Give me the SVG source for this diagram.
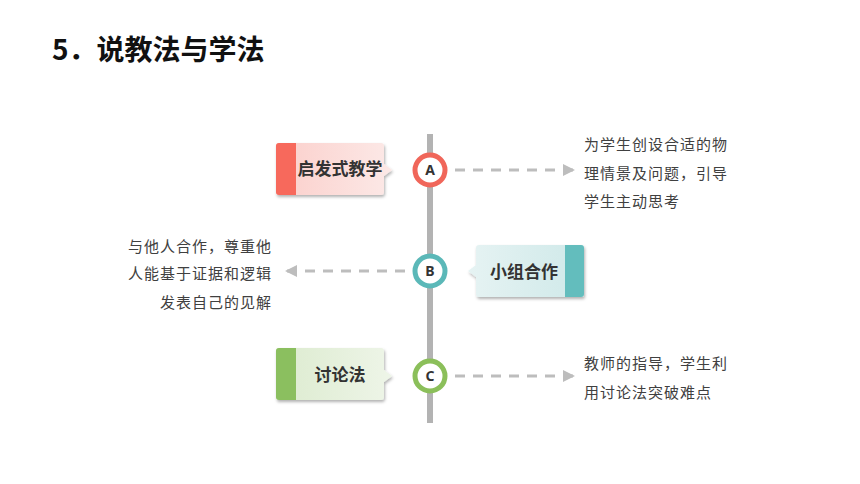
<svg xmlns="http://www.w3.org/2000/svg" width="860" height="484" viewBox="0 0 860 484">
<defs>
<linearGradient id="gA" x1="0" y1="0" x2="1" y2="0"><stop offset="0" stop-color="#fbcfcb"/><stop offset="1" stop-color="#fce9e7"/></linearGradient>
<linearGradient id="gB" x1="0" y1="0" x2="1" y2="0"><stop offset="0" stop-color="#e6f3f3"/><stop offset="1" stop-color="#cfe9e9"/></linearGradient>
<linearGradient id="gC" x1="0" y1="0" x2="1" y2="0"><stop offset="0" stop-color="#dcebcf"/><stop offset="1" stop-color="#eef5e8"/></linearGradient>
<filter id="sh" x="-10%" y="-10%" width="125%" height="130%"><feDropShadow dx="1" dy="2" stdDeviation="1.5" flood-color="#000" flood-opacity="0.3"/></filter>
<marker id="ar" viewBox="0 0 12 12" refX="12" refY="6" markerWidth="12" markerHeight="12" markerUnits="userSpaceOnUse" orient="auto"><path d="M0,0 L12,6 L0,12 z" fill="#bdbdbd"/></marker>
<style>
.t{font-family:"Microsoft YaHei","Noto Sans CJK SC",sans-serif;}
.lab{font-size:17px;font-weight:bold;fill:#333;}
.desc{font-size:15px;fill:#404040;letter-spacing:1px;}
.cl{font-size:14px;font-weight:bold;fill:#333;font-family:"Noto Sans","Liberation Sans",sans-serif;}
.dash{stroke:#bdbdbd;stroke-width:3;stroke-dasharray:10,8;fill:none;}
</style>
</defs>
<rect width="860" height="484" fill="#fff"/>
<text class="t" x="52" y="60" font-size="28" font-weight="bold" fill="#111">5．说教法与学法</text>
<g id="timeline"><line x1="430" y1="134" x2="430" y2="423" stroke="#b3b3b3" stroke-width="6"/></g>
<g id="connectors">
<line class="dash" x1="455" y1="170" x2="575" y2="170" marker-end="url(#ar)"/>
<line class="dash" x1="405" y1="271" x2="285" y2="271" marker-end="url(#ar)"/>
<line class="dash" x1="455" y1="376" x2="575" y2="376" marker-end="url(#ar)"/>
</g>
<g id="nodeA">
<g filter="url(#sh)"><path d="M279,143 H381 a3,3 0 0 1 3,3 V164 L392,170 L384,176 V192 a3,3 0 0 1 -3,3 H279 a3,3 0 0 1 -3,-3 V146 a3,3 0 0 1 3,-3 z" fill="url(#gA)"/>
<path d="M279,143 H296 V195 H279 a3,3 0 0 1 -3,-3 V146 a3,3 0 0 1 3,-3 z" fill="#f7695b"/></g>
<text class="t lab" x="340" y="175" text-anchor="middle">启发式教学</text>
</g>
<g id="circleA"><circle cx="430" cy="170" r="15" fill="#fff" stroke="#f0665a" stroke-width="5"/><text class="cl" x="430" y="175" text-anchor="middle">A</text></g>
<g id="descA">
<text class="t desc" x="584" y="150">为学生创设合适的物</text>
<text class="t desc" x="584" y="179">理情景及问题，引导</text>
<text class="t desc" x="584" y="207">学生主动思考</text>
</g>
<g id="nodeB">
<g filter="url(#sh)"><path d="M479,245 H581 a3,3 0 0 1 3,3 V294 a3,3 0 0 1 -3,3 H479 a3,3 0 0 1 -3,-3 V277 L468,271 L476,265 V248 a3,3 0 0 1 3,-3 z" fill="url(#gB)"/>
<path d="M565,245 H581 a3,3 0 0 1 3,3 V294 a3,3 0 0 1 -3,3 H565 z" fill="#63bdbd"/></g>
<text class="t lab" x="524" y="278" text-anchor="middle">小组合作</text>
</g>
<g id="circleB"><circle cx="430" cy="271" r="15" fill="#fff" stroke="#5bb8b8" stroke-width="5"/><text class="cl" x="430" y="276" text-anchor="middle">B</text></g>
<g id="descB">
<text class="t desc" x="272" y="252" text-anchor="end">与他人合作，尊重他</text>
<text class="t desc" x="272" y="279" text-anchor="end">人能基于证据和逻辑</text>
<text class="t desc" x="272" y="308" text-anchor="end">发表自己的见解</text>
</g>
<g id="nodeC">
<g filter="url(#sh)"><path d="M279,348 H381 a3,3 0 0 1 3,3 V370 L392,376 L384,382 V397 a3,3 0 0 1 -3,3 H279 a3,3 0 0 1 -3,-3 V351 a3,3 0 0 1 3,-3 z" fill="url(#gC)"/>
<path d="M279,348 H296 V400 H279 a3,3 0 0 1 -3,-3 V351 a3,3 0 0 1 3,-3 z" fill="#8bbf5e"/></g>
<text class="t lab" x="340" y="381" text-anchor="middle">讨论法</text>
</g>
<g id="circleC"><circle cx="430" cy="376" r="15" fill="#fff" stroke="#8bbf5a" stroke-width="5"/><text class="cl" x="430" y="381" text-anchor="middle">C</text></g>
<g id="descC">
<text class="t desc" x="584" y="369">教师的指导，学生利</text>
<text class="t desc" x="584" y="398">用讨论法突破难点</text>
</g>
</svg>
